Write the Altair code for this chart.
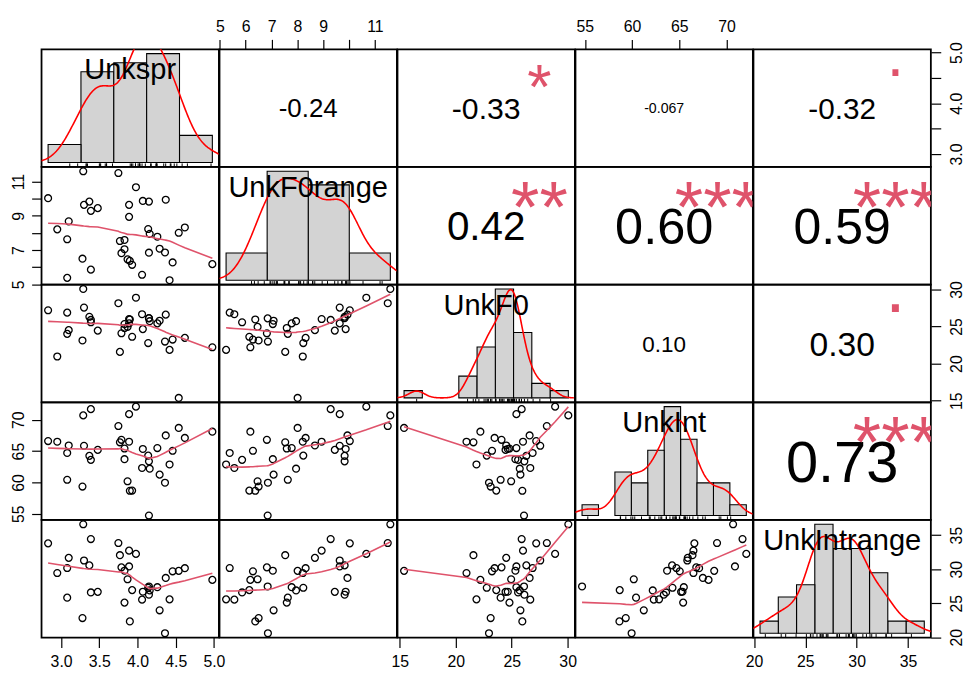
import altair as alt
import pandas as pd
import numpy as np

names = ["Unkspr", "UnkF0range", "UnkF0", "UnkInt", "UnkIntrange"]

unkspr = [3.29, 3.39, 2.83, 3.75, 3.89, 3.98, 3.77, 3.10, 3.30, 3.37, 3.89, 3.79, 3.08,
          4.62, 3.83, 4.54, 4.46, 2.95, 4.37, 3.87, 4.98, 4.15, 4.26, 4.14, 3.93, 4.16,
          4.07, 3.48, 3.39, 4.15, 3.08, 4.42, 4.06, 3.83, 4.29, 3.28, 3.90, 4.36]
unkf0range = [11.60, 9.29, 10.03, 11.50, 8.94, 10.67, 7.53, 8.68, 9.64, 9.83, 9.64, 6.82, 5.38,
              8.32, 7.05, 8.01, 6.28, 8.21, 9.94, 6.46, 6.18, 6.85, 7.78, 8.23, 6.14, 7.95,
              9.87, 9.45, 5.86, 9.83, 7.63, 5.24, 5.56, 7.59, 7.08, 6.50, 6.37, 6.86]
unkf0 = [30.06, 25.89, 27.19, 28.14, 26.01, 28.88, 21.58, 24.51, 27.55, 26.31, 25.42, 24.09, 26.87,
         23.47, 25.33, 15.38, 23.24, 20.96, 26.60, 24.95, 22.20, 26.10, 25.42, 22.77, 23.62, 25.72,
         24.65, 24.45, 25.57, 26.13, 24.01, 21.85, 26.66, 24.80, 25.78, 23.12, 25.95, 22.97]
unkint = [70.7, 71.7, 66.6, 69.0, 66.5, 72.1, 66.4, 65.9, 65.85, 64.24, 70.9, 66.8, 64.70,
          67.1, 63.71, 68.7, 65.05, 66.5, 67.5, 60.18, 68.1, 54.70, 65.48, 64.28, 58.69, 62.19,
          65.34, 65.19, 63.6, 63.36, 60.42, 62.86, 62.30, 65.41, 61.24, 59.33, 58.66, 59.95]
unkintrange = [36.59, 34.42, 33.79, 33.84, 32.72, 32.24, 32.05, 31.66, 31.27, 30.55, 30.40, 30.26, 30.16,
               30.14, 29.77, 29.75, 29.68, 29.43, 28.71, 28.51, 28.42, 27.45, 27.35, 27.26, 26.92, 26.87,
               26.68, 26.66, 26.58, 26.24, 25.81, 25.56, 25.52, 25.08, 23.95, 22.81, 22.32, 20.58]

spr_breaks = [2.5, 3.0, 3.5, 4.0, 4.5, 5.0]
f0range_breaks = [4, 6, 8, 10, 12]
f0_breaks = [14, 16, 18, 20, 22, 24, 26, 28, 30, 32]
int_breaks = [54, 56, 58, 60, 62, 64, 66, 68, 70, 72, 74]
intrange_breaks = [20, 22, 24, 26, 28, 30, 32, 34, 36, 38]

spr_ticks = [3.0, 3.5, 4.0, 4.5, 5.0]
f0range_ticks = [5, 6, 7, 8, 9, 10, 11]
f0_ticks = [15, 20, 25, 30]
int_ticks = [55, 60, 65, 70]
intrange_ticks = [20, 25, 30, 35]

corr_pairs = [(0, 1), (0, 2), (0, 3), (0, 4), (1, 2), (1, 3), (1, 4), (2, 3), (2, 4), (3, 4)]
corr_text = ["-0.24", "-0.33", "-0.067", "-0.32", "0.42", "0.60", "0.59", "0.10", "0.30", "0.73"]
corr_stars = ["", "*", "", ".", "**", "***", "***", "", ".", "***"]

# axes: (row, col) -> side, labelled values
x_axes = {(0, 1): ("top", [5, 6, 7, 8, 9, 11]),
          (0, 3): ("top", [55, 60, 65, 70]),
          (4, 0): ("bottom", [3.0, 3.5, 4.0, 4.5, 5.0]),
          (4, 2): ("bottom", [15, 20, 25, 30]),
          (4, 4): ("bottom", [20, 25, 30, 35])}
y_axes = {(1, 0): ("left", [5, 7, 9, 11]),
          (3, 0): ("left", [55, 60, 65, 70]),
          (0, 4): ("right", [3.0, 4.0, 5.0]),
          (2, 4): ("right", [15, 20, 25, 30]),
          (4, 4): ("right", [20, 25, 30, 35])}

cols = [unkspr, unkf0range, unkf0, unkint, unkintrange]
breaks = [spr_breaks, f0range_breaks, f0_breaks, int_breaks, intrange_breaks]
ticks = [spr_ticks, f0range_ticks, f0_ticks, int_ticks, intrange_ticks]

df = pd.DataFrame({n: v for n, v in zip(names, cols)})
N = len(df)

W, H = 179.4, 119
FONT = "Liberation Sans"
SMOOTH = "#DF536B"

# Arial / Liberation Sans advance widths (em)
GW = {"0": .556, "1": .556, "2": .556, "3": .556, "4": .556, "5": .556, "6": .556, "7": .556,
      "8": .556, "9": .556, "-": .333, ".": .278, "*": .389, "U": .722, "n": .556, "k": .5,
      "s": .5, "p": .556, "r": .333, "F": .611, "a": .556, "g": .556, "e": .556, "I": .278, "t": .278}


def emw(s):
    return sum(GW[c] for c in s)


def sc(k):
    v = cols[k]
    lo, hi = min(v), max(v)
    r = hi - lo
    return alt.Scale(domain=[lo - 0.04 * r, hi + 0.04 * r], nice=False, zero=False)


AX = dict(domain=False, grid=False, ticks=True, tickColor="black", tickWidth=1.2, tickSize=10,
          labelFont=FONT, labelFontSize=16, labelColor="black", labelFlush=False,
          labelOverlap=False, labelBound=False, title=None)


def make_axis(k, side, shown):
    fmt = ".1f" if k == 0 else "d"
    arr = ",".join(repr(float(v)) for v in shown)
    expr = f"indexof([{arr}], datum.value) >= 0 ? format(datum.value, '{fmt}') : ''"
    kw = dict(AX, orient=side, values=ticks[k], labelExpr=expr)
    if side == "bottom":
        kw.update(labelPadding=6)
    elif side == "top":
        kw.update(labelPadding=5)
    elif side == "left":
        kw.update(labelAngle=270, labelAlign="center", labelBaseline="alphabetic", labelPadding=8)
    else:
        kw.update(labelAngle=270, labelAlign="center", labelBaseline="top", labelPadding=8)
    return alt.Axis(**kw)


def get_axes(i, j):
    xa = make_axis(j, *x_axes[(i, j)]) if (i, j) in x_axes else None
    ya = make_axis(i, *y_axes[(i, j)]) if (i, j) in y_axes else None
    return xa, ya


UNIT = alt.Scale(domain=[0, 1], nice=False, zero=False)


def unit_text(txt, px, py, fs, center, color, clip=False):
    d = pd.DataFrame({"px": [px], "py": [py], "t": [txt]})
    return alt.Chart(d).mark_text(font=FONT, fontSize=fs, align="center", baseline="alphabetic",
                                  dy=center * fs, color=color, clip=clip).encode(
        x=alt.X("px:Q", scale=UNIT, axis=None),
        y=alt.Y("py:Q", scale=UNIT, axis=None),
        text="t:N")


def axis_layer(i, j):
    xa, ya = get_axes(i, j)
    return alt.Chart(df).mark_point(opacity=0).encode(
        x=alt.X(f"{names[j]}:Q", scale=sc(j), axis=xa),
        y=alt.Y(f"{names[i]}:Q", scale=sc(i), axis=ya))


def scatter_panel(i, j):
    xa, ya = get_axes(i, j)
    xe = alt.X(f"{names[j]}:Q", scale=sc(j), axis=xa)
    ye = alt.Y(f"{names[i]}:Q", scale=sc(i), axis=ya)
    pts = alt.Chart(df).mark_point(shape="circle", filled=False, color="black", size=48,
                                   strokeWidth=1.3, opacity=1).encode(x=xe, y=ye)
    sm = alt.Chart(df).transform_loess(names[j], names[i], bandwidth=2 / 3).mark_line(
        color=SMOOTH, strokeWidth=1.6).encode(x=xe, y=ye)
    return alt.layer(pts, sm).properties(width=W, height=H)


LABEL_FS = 0.9 * W / max(emw(n) for n in names)


def hist_panel(k):
    var = names[k]
    v = np.array(cols[k], dtype=float)
    br = breaks[k]
    step = br[1] - br[0]
    start = br[0]
    counts = [int(np.sum((v > br[q]) & (v <= br[q + 1]))) for q in range(len(br) - 1)]
    m = max(counts) / (N * step)
    span = br[-1] - br[0]
    hx = alt.Scale(domain=[br[0] - 0.04 * span, br[-1] + 0.04 * span], nice=False, zero=False)
    hy = alt.Scale(domain=[-0.04 * m, 1.04 * m], nice=False, zero=False)
    sd = v.std(ddof=1)
    q1, q3 = np.percentile(v, [25, 75])
    bw = 0.9 * min(sd, (q3 - q1) / 1.34) * N ** -0.2
    lo_f, hi_f, c_f, d_f = f"{var}_lo", f"{var}_hi", f"{var}_cnt", f"{var}_dens"
    # right-closed bins (a, b] as in R's hist()
    bars = alt.Chart(df).transform_calculate(
        **{lo_f: f"{start} + {step} * max(0, ceil((datum.{var} - {start}) / {step}) - 1)"}
    ).transform_calculate(
        **{hi_f: f"datum.{lo_f} + {step}"}
    ).transform_aggregate(
        **{c_f: "count()"}, groupby=[lo_f, hi_f]
    ).transform_calculate(
        **{d_f: f"datum.{c_f} / ({N} * {step})"}
    ).mark_rect(fill="#D3D3D3", stroke="black", strokeWidth=1.1).encode(
        x=alt.X(f"{lo_f}:Q", scale=hx, axis=None), x2=f"{hi_f}:Q",
        y=alt.Y(f"{d_f}:Q", scale=hy, axis=None), y2=alt.datum(0))
    dens = alt.Chart(df).transform_density(
        var, as_=[f"{var}_v", f"{var}_d"], bandwidth=bw,
        extent=[v.min() - 3 * bw, v.max() + 3 * bw], steps=300
    ).mark_line(color="red", strokeWidth=1.6, clip=True).encode(
        x=alt.X(f"{var}_v:Q", scale=hx, axis=None), y=alt.Y(f"{var}_d:Q", scale=hy, axis=None))
    rug = alt.Chart(df).mark_rule(color="black", strokeWidth=1).encode(
        x=alt.X(f"{var}:Q", scale=hx, axis=None),
        y=alt.datum(-0.04 * m), y2=alt.datum(-0.04 * m + 0.03 * 1.08 * m))
    hist = alt.layer(bars, dens, rug)
    label = unit_text(var, 0.5, 0.8333, LABEL_FS, 0.36, "black")
    layers = [hist, label]
    if (k, k) in x_axes or (k, k) in y_axes:
        layers.append(axis_layer(k, k))
    return alt.layer(*layers).resolve_scale(x="independent", y="independent").properties(width=W, height=H)


def upper_panel(i, j):
    q = corr_pairs.index((i, j))
    txt = corr_text[q]
    sig = corr_stars[q]
    r = abs(float(txt))
    cex = 0.8 * W / emw(txt)
    fs_num = cex * (r + 0.3) / 1.3
    layers = [unit_text(txt, 0.5, 0.5, fs_num, 0.36, "black")]
    if sig:
        center = 0.05 if sig == "." else 0.57
        layers.append(unit_text(sig, 0.8, 0.8, cex, center, SMOOTH, clip=True))
    if (i, j) in x_axes or (i, j) in y_axes:
        layers.append(axis_layer(i, j))
    return alt.layer(*layers).resolve_scale(x="independent", y="independent").properties(width=W, height=H)


panels = []
for i in range(5):
    for j in range(5):
        if i == j:
            panels.append(hist_panel(i))
        elif i > j:
            panels.append(scatter_panel(i, j))
        else:
            panels.append(upper_panel(i, j))

chart = alt.concat(*panels, columns=5, spacing=0, bounds="flush").properties(
    padding={"left": 10, "top": 14, "right": 5, "bottom": 2}
).configure(font=FONT, background="white").configure_view(stroke="black", strokeWidth=1.8)

chart.save("out.html", embed_options={"renderer": "svg", "actions": False})
